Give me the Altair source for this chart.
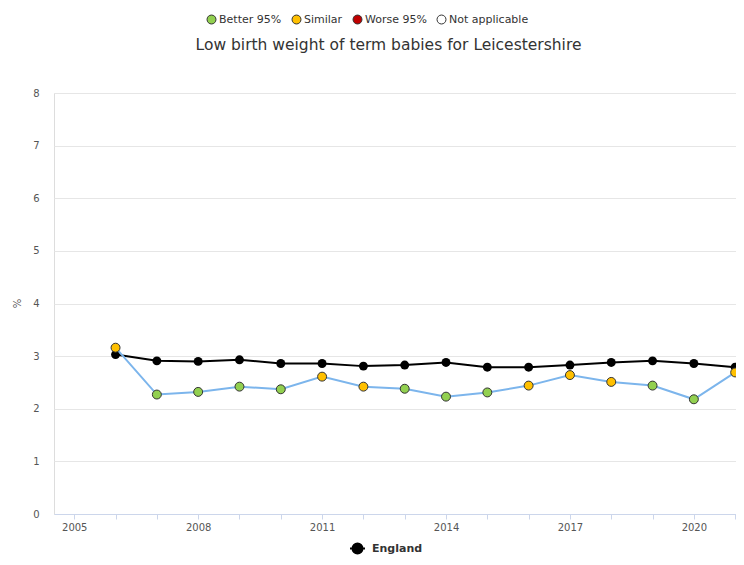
import altair as alt
import pandas as pd

years = list(range(2006, 2022))
leics_values = [3.16, 2.27, 2.32, 2.42, 2.37, 2.61, 2.42, 2.38, 2.23, 2.31, 2.44, 2.64, 2.51, 2.44, 2.18, 2.69]
leics_status = ["Similar", "Better 95%", "Better 95%", "Better 95%", "Better 95%", "Similar", "Similar",
                "Better 95%", "Better 95%", "Better 95%", "Similar", "Similar", "Similar", "Better 95%",
                "Better 95%", "Similar"]
england_values = [3.03, 2.91, 2.90, 2.93, 2.86, 2.86, 2.81, 2.83, 2.88, 2.79, 2.79, 2.83, 2.88, 2.91, 2.86, 2.79]

status_categories = ["Better 95%", "Similar", "Worse 95%", "Not applicable"]
status_colors = ["#92D050", "#FFC000", "#C00000", "#FFFFFF"]
x_ticks = list(range(2005, 2022))
y_ticks = list(range(0, 9))

df_leics = pd.DataFrame({"year": years, "value": leics_values, "status": leics_status})
df_eng = pd.DataFrame({"year": years, "value": england_values, "area": ["England"] * len(years)})

FONT = "DejaVu Sans"

x_enc = alt.X(
    "year:Q",
    scale=alt.Scale(domain=[2004.51, 2021.02], nice=False, zero=False),
    axis=alt.Axis(
        values=x_ticks, format="d",
        labelExpr="datum.value % 3 == 1 ? datum.label : ''",
        title=None, grid=False, domainColor="#ccd6eb", tickColor="#ccd6eb",
        tickSize=5, labelPadding=3, labelFontSize=10, labelColor="#555555",
        labelFont=FONT, labelFlush=False, labelOverlap=False,
    ),
)
y_enc = alt.Y(
    "value:Q",
    scale=alt.Scale(domain=[0, 8], nice=False),
    axis=alt.Axis(
        values=y_ticks, title="%", grid=True, gridColor="#e6e6e6", domain=False,
        ticks=False, labelPadding=15, labelFontSize=10, labelColor="#555555", labelFont=FONT,
        titleX=-37, titleY=210, titleAngle=-90, titleAlign="center", titleBaseline="middle",
        titleFontSize=10, titleFontWeight="normal", titleColor="#555555", titleFont=FONT,
    ),
)

eng_line = alt.Chart(df_eng).mark_line(strokeWidth=2).encode(
    x=x_enc, y=y_enc,
    stroke=alt.Stroke(
        "area:N",
        scale=alt.Scale(domain=["England"], range=["#000000"]),
        legend=alt.Legend(
            title=None, orient="none", legendX=295, legendY=447,
            symbolType="M-1,0H1M0.667,0A0.667,0.667,0,1,1,-0.667,0A0.667,0.667,0,1,1,0.667,0Z",
            symbolSize=225, symbolStrokeWidth=2, symbolFillColor="#000000",
            labelFontSize=11, labelFontWeight="bold", labelFont=FONT, labelColor="#333333",
            labelOffset=6,
        ),
    ),
)
eng_pts = alt.Chart(df_eng).mark_circle(size=80, color="#000000", opacity=1).encode(x=x_enc, y=y_enc)
leics_line = alt.Chart(df_leics).mark_line(color="#7cb5ec", strokeWidth=2).encode(x=x_enc, y=y_enc)
leics_pts = alt.Chart(df_leics).mark_circle(size=80, opacity=1, stroke="#333333", strokeWidth=1).encode(
    x=x_enc, y=y_enc,
    fill=alt.Fill(
        "status:N",
        scale=alt.Scale(domain=status_categories, range=status_colors),
        legend=alt.Legend(
            title=None, orient="none", legendX=152, legendY=-79, direction="horizontal",
            symbolType="circle", symbolSize=80, symbolStrokeColor="#333333", symbolStrokeWidth=1,
            symbolOpacity=1, labelFontSize=11, labelFont=FONT, labelColor="#333333",
            labelOffset=2, columnPadding=8,
        ),
    ),
)

chart = alt.layer(eng_line, eng_pts, leics_line, leics_pts).properties(
    width=682, height=421,
    padding={"left": 46, "top": 85, "right": 0, "bottom": 43},
    autosize=alt.AutoSizeParams(type="none"),
    title=alt.Title(
        "Low birth weight of term babies for Leicestershire",
        fontSize=15.5, fontWeight="normal", font=FONT, color="#333333",
        anchor="middle", frame="group", dx=-6.5, offset=-51, baseline="alphabetic",
    ),
).configure_view(stroke=None).configure(background="white")

chart.save("out.html", embed_options={"renderer": "svg", "actions": False})
